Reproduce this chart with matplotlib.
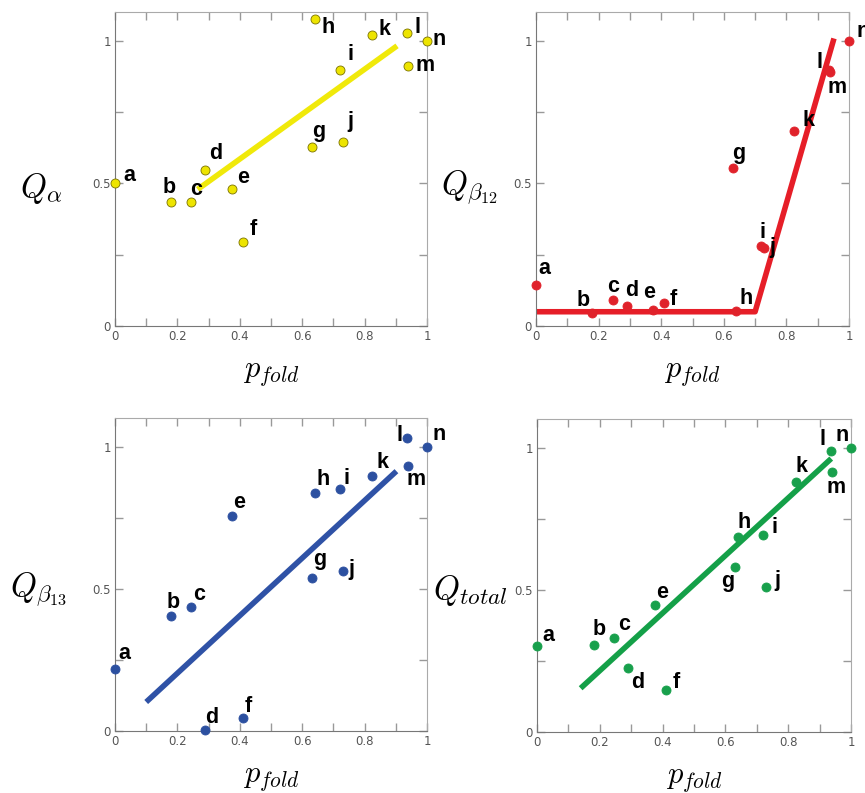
import numpy as np
import matplotlib
matplotlib.use("Agg")
import matplotlib.pyplot as plt
from matplotlib.ticker import MultipleLocator

plt.rcParams["mathtext.fontset"] = "cm"

## point labels and the p_fold value of each (same for all four panels)
letters = ["a", "b", "c", "d", "e", "f", "g", "h", "i", "j", "k", "l", "m", "n"]
p_fold = [0.0, 0.18, 0.245, 0.29, 0.375, 0.41, 0.63, 0.64, 0.72, 0.73, 0.825, 0.935, 0.94, 1.0]

## Q values
q_alpha = [0.50, 0.435, 0.433, 0.547, 0.480, 0.296, 0.628, 1.076, 0.896, 0.645, 1.020, 1.026, 0.910, 1.0]
q_beta12 = [0.144, 0.044, 0.091, 0.071, 0.056, 0.079, 0.555, 0.053, 0.282, 0.272, 0.685, 0.897, 0.89, 1.0]
q_beta13 = [0.217, 0.404, 0.436, 0.004, 0.757, 0.045, 0.538, 0.837, 0.852, 0.564, 0.897, 1.032, 0.933, 1.0]
q_total = [0.302, 0.307, 0.332, 0.225, 0.448, 0.148, 0.580, 0.686, 0.693, 0.511, 0.880, 0.989, 0.914, 1.0]

## fit lines (end points / knee)
fit_alpha_x = [0.265, 0.904]
fit_alpha_y = [0.479, 0.982]
fit_b12_x = [0.0, 0.70, 0.952]
fit_b12_y = [0.05, 0.05, 1.008]
fit_b13_x = [0.10, 0.902]
fit_b13_y = [0.102, 0.914]
fit_total_x = [0.139, 0.937]
fit_total_y = [0.154, 0.962]

x_ticks = [0, 0.2, 0.4, 0.6, 0.8, 1.0]
x_ticklabels = ["0", "0.2", "0.4", "0.6", "0.8", "1"]
y_ticks = [0, 0.5, 1.0]
y_ticklabels = ["0", "0.5", "1"]

## label offsets in pixels (text baseline-left relative to the dot)
offs_alpha = [(8, 2), (-9, 9), (-1, 7), (4, 11), (5, 6), (7, 7), (1, 10), (7, -14),
              (8, 10), (5, 15), (6, 0), (8, 0), (7, -5), (6, -4)]
offs_b12 = [(2, 11), (-16, 7), (-6, 8), (-2, 10), (-10, 12), (5, -2), (-1, 9), (3, 7),
            (-2, 8), (5, -5), (8, 5), (-12, 2), (-3, -21), (8, 4)]
offs_b13 = [(3, 10), (-5, 8), (2, 7), (0, 7), (1, 8), (2, 6), (2, 13), (2, 8),
            (4, 5), (6, -4), (4, 8), (-10, -3), (-2, -19), (5, 7)]
offs_total = [(5, 5), (-1, 10), (4, 8), (3, -20), (1, 7), (7, 2), (-14, -20), (0, 9),
              (8, 2), (8, 1), (-1, 10), (-11, 6), (-6, -21), (-15, 7)]

fig = plt.figure(figsize=(8.65, 7.93), dpi=100)

panels = [
    dict(rect=[115 / 865, 0.5889, 312 / 865, 0.3957], y=q_alpha, fx=fit_alpha_x, fy=fit_alpha_y,
         color="#ede400", line="#f0e90a", edge="#7a7200", offs=offs_alpha,
         ylab=r"$Q_{\alpha}$", ylab_pos=(20, 188)),
    dict(rect=[536 / 865, 0.5889, 313 / 865, 0.3957], y=q_beta12, fx=fit_b12_x, fy=fit_b12_y,
         color="#e0222b", line="#e61e28", edge="#e0222b", offs=offs_b12,
         ylab=r"$Q_{\beta_{12}}$", ylab_pos=(441, 188)),
    dict(rect=[115 / 865, 0.0782, 312 / 865, 0.3943], y=q_beta13, fx=fit_b13_x, fy=fit_b13_y,
         color="#2c50a0", line="#2f52a6", edge="#2c50a0", offs=offs_b13,
         ylab=r"$Q_{\beta_{13}}$", ylab_pos=(10, 590)),
    dict(rect=[537 / 865, 0.0769, 314 / 865, 0.3943], y=q_total, fx=fit_total_x, fy=fit_total_y,
         color="#18a04c", line="#14a048", edge="#18a04c", offs=offs_total,
         ylab=r"$Q_{total}$", ylab_pos=(433, 590)),
]

for p in panels:
    ax = fig.add_axes(p["rect"])
    ax.plot(p["fx"], p["fy"], color=p["line"], linewidth=4, solid_capstyle="butt", zorder=2)
    ax.plot(p_fold, p["y"], "o", color=p["color"], markeredgecolor=p["edge"],
            markeredgewidth=0.6, markersize=6.5, clip_on=False, zorder=3)
    for xv, yv, lab, (dx, dy) in zip(p_fold, p["y"], letters, p["offs"]):
        ax.annotate(lab, (xv, yv), xytext=(dx, dy), textcoords="offset pixels",
                    ha="left", va="baseline", fontsize=15.5, fontweight="bold",
                    family="Liberation Sans", annotation_clip=False, zorder=4)

    ax.set_xlim(0, 1)
    ax.set_ylim(0, 1.1)
    ax.set_xticks(x_ticks)
    ax.set_xticklabels(x_ticklabels)
    ax.xaxis.set_minor_locator(MultipleLocator(0.1))
    ax.set_yticks(y_ticks)
    ax.set_yticklabels(y_ticklabels)
    ax.yaxis.set_minor_locator(MultipleLocator(0.25))
    ax.tick_params(which="both", direction="in", top=True, right=True, color="#999999",
                   labelsize=8.5, labelcolor="#555555", pad=3)
    ax.tick_params(which="major", length=6, width=1)
    ax.tick_params(which="minor", length=6, width=1)
    for side in ["left", "bottom"]:
        ax.spines[side].set_color("#777777")
    for side in ["top", "right"]:
        ax.spines[side].set_color("#aaaaaa")

    ## big axis titles, placed like in the original figure
    fx, fy = p["ylab_pos"]
    fig.text(fx / 865, 1 - fy / 793, p["ylab"], fontsize=24, ha="left", va="center")
    x0, yb, w, h = p["rect"]
    fig.text(x0 + w * 0.5, yb - 0.06, r"$p_{fold}$", fontsize=22, ha="center", va="center")

fig.savefig("out.png", dpi=100)
